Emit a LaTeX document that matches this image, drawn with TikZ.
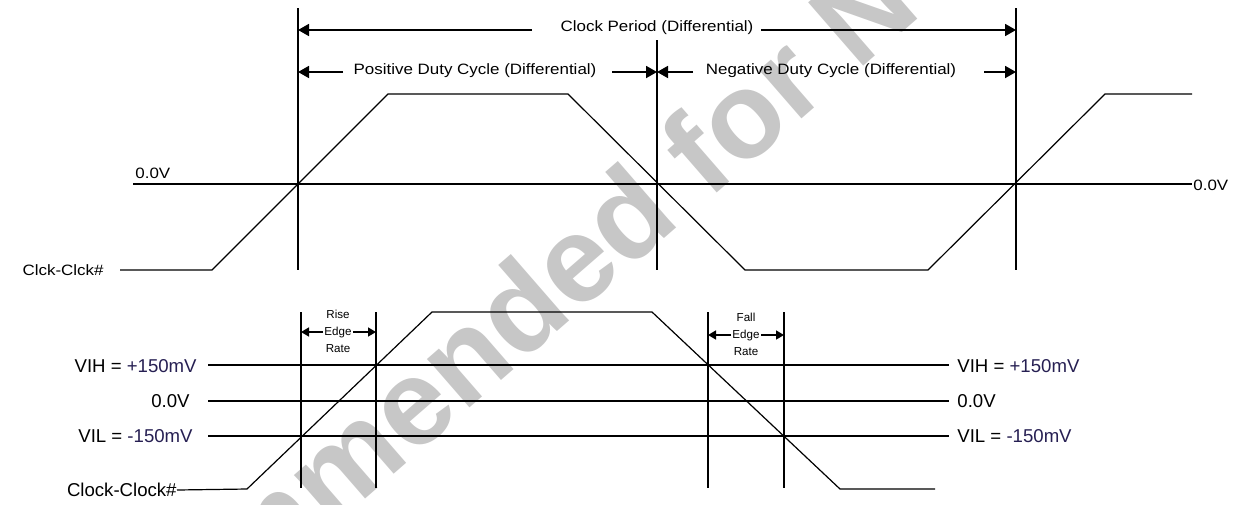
\documentclass[tikz,border=0pt]{standalone}
\usepackage{fontspec}
\setmainfont{Liberation Sans}
\usetikzlibrary{arrows.meta}
\definecolor{wm}{gray}{0.78}
\definecolor{mvcol}{rgb}{0.15,0.12,0.32}
\begin{document}
\begin{tikzpicture}[x=0.5pt,y=-0.5pt,
  axis/.style={line width=1.2pt},
  midaxis/.style={line width=0.8pt},
  wave/.style={line width=0.6pt},
  vline/.style={line width=0.9pt},
  dim/.style={line width=0.9pt,-{Triangle[length=5.5pt,width=6pt]}},
  smalldim/.style={line width=0.8pt,-{Triangle[length=4pt,width=4.5pt]}},
  toplbl/.style={font=\fontsize{7.5}{9}\selectfont,inner sep=0pt},
  lbl/.style={font=\fontsize{9.3}{11}\selectfont,inner sep=0pt},
  tinylbl/.style={font=\fontsize{5.8}{8.5}\selectfont,inner sep=0pt,align=center},
  wmark/.style={font=\bfseries\fontsize{61}{64}\selectfont,text=wm,inner sep=0pt}
]
\useasboundingbox (0,0) rectangle (1240,504);
\begin{scope}
\clip (0,0) rectangle (1240,504);
\node[wmark,rotate=41,anchor=base west] (wmk) at (-156,952) {Not Recommended for New Designs};
\end{scope}

% ---------- top diagram ----------
\coordinate (L1t) at (298,8);   \coordinate (L1b) at (298,270);
\coordinate (L2t) at (657,40);  \coordinate (L2b) at (657,270);
\coordinate (L3t) at (1016,8);  \coordinate (L3b) at (1016,270);
\draw[vline] (L1t) -- (L1b);
\draw[vline] (L2t) -- (L2b);
\draw[vline] (L3t) -- (L3b);

\node[toplbl] (cp) at (657,28) {\scalebox{1.13}[1]{Clock Period (Differential)}};
\coordinate (cpl) at (532,30); \coordinate (cpr) at (761,30);
\draw[dim] (cpl) -- (L1t |- cpl);
\draw[dim] (cpr) -- (L3t |- cpr);

\node[toplbl] (pdc) at (475,71) {\scalebox{1.13}[1]{Positive Duty Cycle (Differential)}};
\node[toplbl] (ndc) at (831,71) {\scalebox{1.13}[1]{Negative Duty Cycle (Differential)}};
\coordinate (p1) at (343,72); \coordinate (p2) at (612,72);
\coordinate (n1) at (693,72); \coordinate (n2) at (984,72);
\draw[dim] (p1) -- (L1t |- p1);
\draw[dim] (p2) -- (L2t |- p2);
\draw[dim] (n1) -- (L2t |- n1);
\draw[dim] (n2) -- (L3t |- n2);

\coordinate (z0) at (133,184); \coordinate (z1) at (1192,184);
\draw[axis] (z0) -- (z1);
\node[toplbl,anchor=base west] (zl) at (135,178) {\scalebox{1.13}[1]{0.0V}};
\node[toplbl,anchor=west] (zr) at (1193,185) {\scalebox{1.13}[1]{0.0V}};

\node[toplbl,anchor=east] (clk1) at (104,270) {\scalebox{1.13}[1]{Clck-Clck\#}};
\coordinate (w0) at (120,270);
\draw[wave] (w0) -- (212,270) -- (388,94) -- (568,94) -- (745,270) -- (928,270) -- (1105,94) -- (1192,94);

% ---------- bottom diagram ----------
\coordinate (R1t) at (301,312); \coordinate (R1b) at (301,488);
\coordinate (R2t) at (376,312); \coordinate (R2b) at (376,488);
\coordinate (F1t) at (708,312); \coordinate (F1b) at (708,488);
\coordinate (F2t) at (784,312); \coordinate (F2b) at (784,488);
\draw[vline] (R1t) -- (R1b);
\draw[vline] (R2t) -- (R2b);
\draw[vline] (F1t) -- (F1b);
\draw[vline] (F2t) -- (F2b);

\coordinate (h0) at (208,365); \coordinate (h1) at (949,365);
\coordinate (m0) at (208,401); \coordinate (m1) at (949,401);
\coordinate (l0) at (208,436); \coordinate (l1) at (949,436);
\draw[axis] (h0) -- (h1);
\draw[midaxis] (m0) -- (m1);
\draw[axis] (l0) -- (l1);

\node[lbl,anchor=east] (vihl) at (197,366) {VIH = \textcolor{mvcol}{+150mV}};
\node[lbl,anchor=east] (zerol) at (190,401) {0.0V};
\node[lbl,anchor=east] (vill) at (193,436) {VIL = \textcolor{mvcol}{-150mV}};
\node[lbl,anchor=west] (vihr) at (957,366) {VIH = \textcolor{mvcol}{+150mV}};
\node[lbl,anchor=west] (zeror) at (957,401) {0.0V};
\node[lbl,anchor=west] (vilr) at (957,436) {VIL = \textcolor{mvcol}{-150mV}};

\node[lbl,anchor=east] (clk2) at (177,490) {Clock-Clock\#};
\draw[wave] (clk2.east) -- (247,489) -- (432,312) -- (652,312) -- (840,489) -- (935,489);

\node[tinylbl] (rise) at (338,331) {Rise\\Edge\\Rate};
\node[tinylbl] (fall) at (746,334) {Fall\\Edge\\Rate};
\coordinate (ra) at (323,332); \coordinate (rb) at (353,332);
\coordinate (fa) at (731,335); \coordinate (fb) at (761,335);
\draw[smalldim] (ra) -- (R1t |- ra);
\draw[smalldim] (rb) -- (R2t |- rb);
\draw[smalldim] (fa) -- (F1t |- fa);
\draw[smalldim] (fb) -- (F2t |- fb);
\end{tikzpicture}
\end{document}
